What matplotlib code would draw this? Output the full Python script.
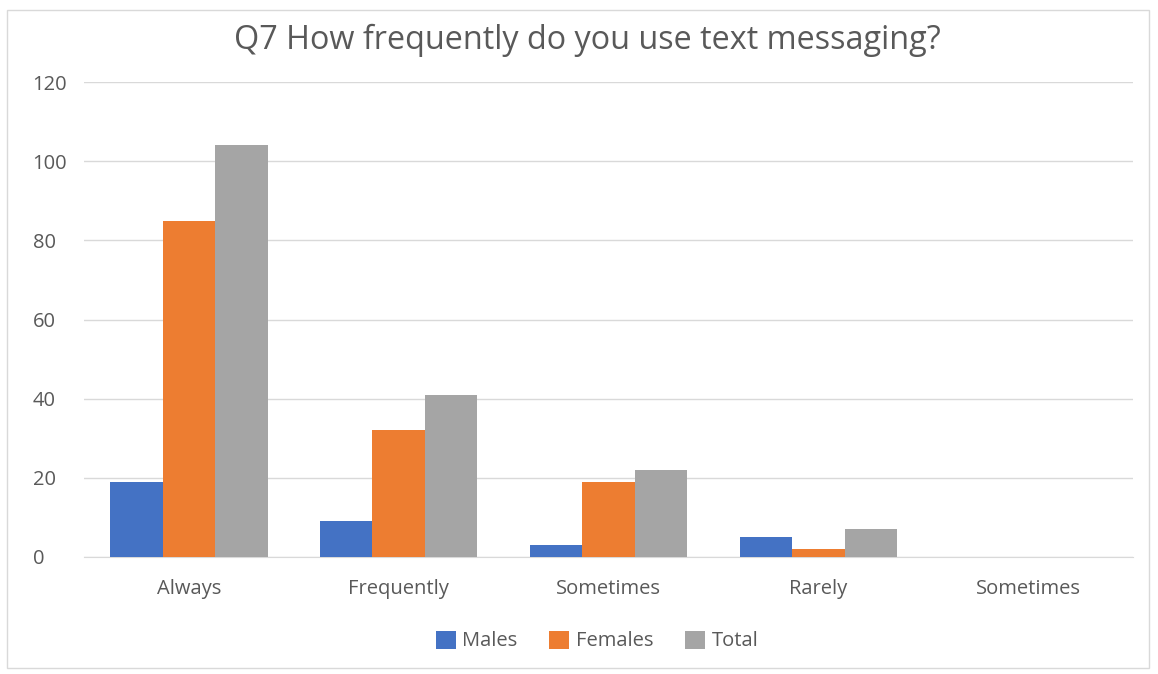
import numpy as np
import matplotlib.pyplot as plt
from matplotlib.patches import Rectangle

plt.rcParams['font.family'] = ['Open Sans', 'DejaVu Sans']

categories = ['Always', 'Frequently', 'Sometimes', 'Rarely', 'Sometimes']
males = [19, 9, 3, 5, 0]
females = [85, 32, 19, 2, 0]
total = [104, 41, 22, 7, 0]
series = [('Males', males, '#4472C4'),
          ('Females', females, '#ED7D31'),
          ('Total', total, '#A5A5A5')]

txt = '#595959'

fig = plt.figure(figsize=(11.58, 6.74), dpi=100)
ax = fig.add_axes([0.0725, 0.1736, 0.9059, 0.7047])

x = np.arange(len(categories))
w = 0.25
for i, (name, vals, col) in enumerate(series):
    ax.bar(x + (i - 1) * w, vals, w, color=col, label=name, zorder=3)

ax.set_xlim(-0.5, len(categories) - 0.5)
ax.set_ylim(0, 120)
ax.set_yticks(range(0, 121, 20))
ax.set_xticks(x)
ax.set_xticklabels(categories)
ax.grid(axis='y', color='#D9D9D9', linewidth=1, zorder=0)
for s in ['top', 'right', 'left']:
    ax.spines[s].set_visible(False)
ax.spines['bottom'].set_color('#D9D9D9')
ax.tick_params(axis='both', length=0, colors=txt, labelsize=14.5)
ax.tick_params(axis='x', pad=16)
ax.tick_params(axis='y', pad=37)
for lab in ax.get_yticklabels():
    lab.set_horizontalalignment('left')

fig.text(0.507, 0.94, 'Q7 How frequently do you use text messaging?',
         ha='center', va='center', fontsize=23.3, color=txt)

ax.legend(loc='center', bbox_to_anchor=(0.5155, 0.049), bbox_transform=fig.transFigure,
          ncol=3, frameon=False, fontsize=14.5, labelcolor=txt,
          handlelength=1.0, handleheight=1.0, handletextpad=0.3, columnspacing=1.6)

fig.patches.append(Rectangle((7 / 1158, 6 / 674), 1142 / 1158, 658 / 674,
                             transform=fig.transFigure, fill=False,
                             edgecolor='#D9D9D9', linewidth=1))

fig.savefig('out.png', dpi=100)
